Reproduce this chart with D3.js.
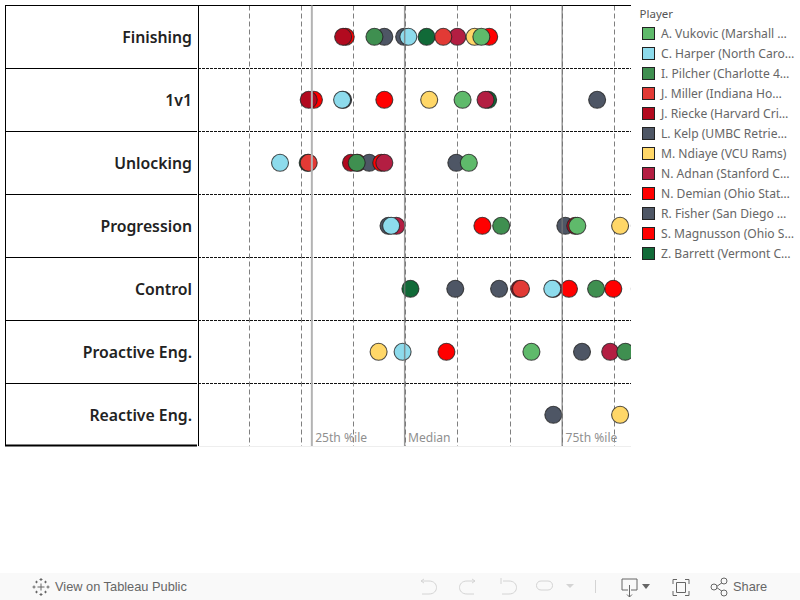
<!DOCTYPE html>
<html><head><meta charset="utf-8">
<script src="https://cdn.jsdelivr.net/npm/d3@7"></script>
<style>html,body{margin:0;padding:0;background:#fff;overflow:hidden}svg{display:block}</style>
</head><body><svg id="c" width="800" height="600"></svg>
<script>
const metrics = ["Finishing","1v1","Unlocking","Progression","Control","Proactive Eng.","Reactive Eng."];
const players = ["A. Vukovic (Marshall …","C. Harper (North Caro…","I. Pilcher (Charlotte 4…","J. Miller (Indiana Ho…","J. Riecke (Harvard Cri…","L. Kelp (UMBC Retrie…","M. Ndiaye (VCU Rams)","N. Adnan (Stanford C…","N. Demian (Ohio Stat…","R. Fisher (San Diego …","S. Magnusson (Ohio S…","Z. Barrett (Vermont C…"];
const colors = ["#5fba6b","#8ddbec","#3f8f50","#e23a35","#b20a1f","#4e5665","#ffd768","#b31e42","#ff0000","#4e5665","#ff0000","#116a38"];
const vukovic = [54.5,50.9,52.1,72.9,null,64.1,null];
const harper = [40.5,27.8,15.9,37.2,68.1,39.4,null];
const pilcher = [34.0,null,30.6,58.3,76.5,82.1,null];
const miller = [47.2,null,21.4,null,62.1,null,null];
const riecke = [28.0,21.4,29.5,72.5,61.8,null,null];
const kelp = [35.9,76.7,49.7,36.7,49.5,null,null];
const ndiaye = [53.2,44.5,null,81.1,84.9,34.8,81.1];
const adnan = [49.9,55.3,35.9,38.2,68.3,79.2,null];
const demian = [56.0,35.9,35.3,54.7,71.3,47.8,null];
const fisher = [39.7,28.0,33.0,70.6,57.9,73.8,68.3];
const magnusson = [28.5,22.4,30.8,null,79.8,null,null];
const barrett = [44.0,55.8,21.2,84.9,40.9,null,null];
const series = [vukovic,harper,pilcher,miller,riecke,kelp,ndiaye,adnan,demian,fisher,magnusson,barrett];
const tickValues = [10,20,30,40,50,60,70,80];
const refValues = [22,39.8,70];
const refLabels = ["25th %ile","Median","75th %ile"];

const svg = d3.select("#c");
const font = "'Noto Sans','Open Sans',sans-serif";
const x = d3.scaleLinear().domain([0,83]).range([197.1,630]);
const y = d3.scaleBand().domain(metrics).range([5,446]);
const L = 5.5, A = 198, R = 631, T = 5.5, B = 446;

svg.append("defs").append("clipPath").attr("id","plot").append("rect")
  .attr("x",A).attr("y",T).attr("width",R-A).attr("height",B-T);

// gridlines
const ax = svg.append("g").attr("transform",`translate(0,${T})`)
  .call(d3.axisBottom(x).tickValues(tickValues).tickSize(B-T).tickFormat(""));
ax.select(".domain").remove();
ax.selectAll("line").attr("stroke","#7f7f7f").attr("stroke-width",1).attr("stroke-dasharray","5,3");
ax.selectAll(".tick").attr("transform",d=>`translate(${Math.floor(x(d))+0.5},0)`);

// bottom hairline
svg.append("line").attr("x1",A).attr("x2",R).attr("y1",446.5).attr("y2",446.5).attr("stroke","#eeeeee");

// row separators
const seps = metrics.slice(1).map(m=>Math.round(y(m))+0.5);
svg.selectAll(".sep").data(seps).join("line").attr("class","sep")
  .attr("x1",A).attr("x2",R).attr("y1",d=>d).attr("y2",d=>d)
  .attr("stroke","#111").attr("stroke-width",1).attr("stroke-dasharray","3,1");
svg.selectAll(".sepL").data(seps).join("line").attr("class","sepL")
  .attr("x1",L).attr("x2",197).attr("y1",d=>d).attr("y2",d=>d)
  .attr("stroke","#000").attr("stroke-width",1);

// frame
svg.append("line").attr("x1",L-0.5).attr("x2",R).attr("y1",T).attr("y2",T).attr("stroke","#000");
svg.append("line").attr("x1",L).attr("x2",L).attr("y1",T).attr("y2",B).attr("stroke","#000");
svg.append("line").attr("x1",A+0.5).attr("x2",A+0.5).attr("y1",T).attr("y2",B).attr("stroke","#000");
svg.append("line").attr("x1",5).attr("x2",197).attr("y1",445.5).attr("y2",445.5).attr("stroke","#000").attr("stroke-width",2);

// row labels
svg.selectAll(".rl").data(metrics).join("text").attr("class","rl")
  .attr("x",192).attr("y",d=>y(d)+y.bandwidth()/2+6.5)
  .attr("text-anchor","end").attr("font-family",font).attr("font-size",15.8).attr("font-weight",600)
  .attr("fill","#222").text(d=>d);

// points (last player drawn first)
const pts = [];
d3.range(players.length-1,-1,-1).forEach(p=>{
  series[p].forEach((v,i)=>{ if(v!==null) pts.push({p,m:metrics[i],v}); });
});
svg.append("g").attr("clip-path","url(#plot)").selectAll("circle").data(pts).join("circle")
  .attr("cx",d=>x(d.v)).attr("cy",d=>y(d.m)+y.bandwidth()/2+0.3).attr("r",8.5)
  .attr("fill",d=>colors[d.p]).attr("stroke","#222").attr("stroke-opacity",0.8).attr("stroke-width",1.1);

// reference lines
const refColors = ["#b3b3b3","#777777","#777777"];
const refWidths = [2,1.5,1.5];
svg.selectAll(".ref").data(refValues).join("line").attr("class","ref")
  .attr("x1",d=>x(d)).attr("x2",d=>x(d)).attr("y1",T).attr("y2",B)
  .attr("stroke",(d,i)=>refColors[i]).attr("stroke-opacity",(d,i)=>i?0.75:1).attr("stroke-width",(d,i)=>refWidths[i]);
svg.selectAll(".refl").data(refValues).join("text").attr("class","refl")
  .attr("x",d=>x(d)+3.3).attr("y",442).attr("font-family",font).attr("font-size",12.1)
  .attr("fill","#8f8f8f").text((d,i)=>refLabels[i]);

// legend
const lg = svg.append("g");
lg.append("text").attr("x",639.5).attr("y",18).attr("font-family",font).attr("font-size",11.5).attr("fill","#555").text("Player");
const item = lg.selectAll(".it").data(players).join("g").attr("class","it")
  .attr("transform",(d,i)=>`translate(0,${27+i*20})`);
item.append("rect").attr("x",642.5).attr("y",0.5).attr("width",12).attr("height",12)
  .attr("fill",(d,i)=>colors[i]).attr("stroke","#222");
item.append("text").attr("x",661).attr("y",11).attr("font-family",font).attr("font-size",12.1)
  .attr("fill","#666").text(d=>d);

// toolbar
const tb = svg.append("g");
tb.append("rect").attr("x",0).attr("y",573).attr("width",800).attr("height",27).attr("fill","#f9f9f9");
tb.append("text").attr("x",55).attr("y",591).attr("font-family","'Liberation Sans',Arial,sans-serif")
  .attr("font-size",12.8).attr("fill","#666").text("View on Tableau Public");
tb.append("text").attr("x",733).attr("y",591).attr("font-family","'Liberation Sans',Arial,sans-serif")
  .attr("font-size",12.8).attr("fill","#666").text("Share");
// logo
const lc = [[41,587,7],[41,579.5,3],[41,594.5,3],[34,587,3],[48,587,3],[36.5,582,2.5],[45.5,582,2.5],[36.5,592,2.5],[45.5,592,2.5]];
lc.forEach(([cx,cy,s])=>{
  tb.append("path").attr("d",`M${cx-s/2} ${cy}H${cx+s/2}M${cx} ${cy-s/2}V${cy+s/2}`).attr("stroke","#666").attr("stroke-width",1).attr("fill","none");
});
const ic = (d,c)=>tb.append("path").attr("d",d).attr("fill","none").attr("stroke",c).attr("stroke-width",1);
ic("M421 581h8c10 0 10 13 0 13h-7","#d4d4d4"); ic("M421 581l3-2M421 581l3 2","#d4d4d4");
ic("M475 581h-8c-10 0-10 13 0 13h7","#d4d4d4"); ic("M475 581l-3-2M475 581l-3 2","#d4d4d4");
ic("M501 578v6M503 581h6c10 0 10 13 0 13h-7","#d4d4d4");
ic("M541 581h7c6 0 6 9 0 9h-7c-6 0-6-9 0-9","#d4d4d4");
tb.append("path").attr("d","M566 584h8l-4 4z").attr("fill","#d4d4d4");
ic("M595.5 580v13","#d4d4d4");
ic("M628 590h-6v-11h15v11h-6M629.5 585v12M627 594.500l2.500 2.500 2.500-2.500","#666");
tb.append("path").attr("d","M642 584h8l-4 5z").attr("fill","#666");
ic("M673 584v-4.500h4M685 579.500h4v4.500M689 591v4.500h-4M677 595.500h-4v-4.500M676.500 582.500h9v10h-9z","#666");
ic("M716 587l7-5M716 587l7 5","#666");
[[714,587],[724,581],[724,593]].forEach(([a,b])=>tb.append("circle").attr("cx",a).attr("cy",b).attr("r",3).attr("fill","#f9f9f9").attr("stroke","#666"));
</script></body></html>
